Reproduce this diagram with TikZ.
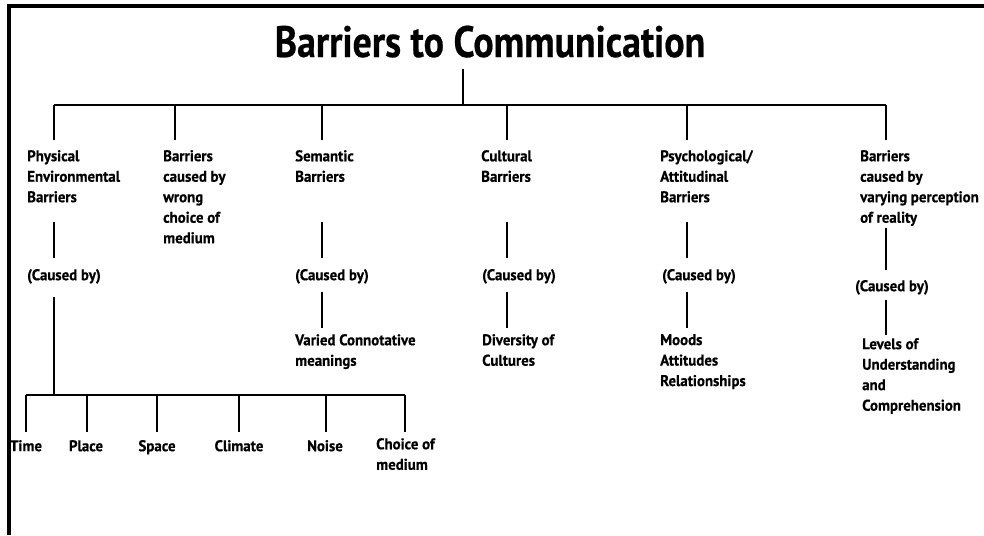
\documentclass[tikz,border=0pt]{standalone}
\usepackage{fontspec}
\setmainfont{PT Sans}[FakeStretch=0.96, FakeBold=0.5]
\newfontfamily\ttlfam{PT Sans}[FakeStretch=0.86, FakeBold=0.5]
\newcommand{\lblfont}{\fontsize{15.5}{20.5}\selectfont\bfseries}
\newcommand{\ttlfont}{\ttlfam\fontsize{44}{48}\selectfont\bfseries}
\tikzset{
  lbl/.style={anchor=north west, inner sep=0pt, align=left, font=\lblfont,
    execute at begin node=\rule{0pt}{13pt}},
  leaf/.style={lbl, anchor=north},
  conn/.style={line width=1.4pt},
}

\begin{document}
\begin{tikzpicture}[x=1pt,y=-1pt]
\useasboundingbox (0,0) rectangle (984,535);

% frame
\draw[line width=4pt] (984,6) -- (9,6) -- (9,535);

% title
\node[font=\ttlfont, anchor=base, inner sep=0pt] (title) at (490,57) {Barriers to Communication};
\coordinate (root) at (463,105);
\draw[conn] (root) -- ([yshift=-11pt]title.south -| root);

% main barriers
\node[lbl] (phys) at (27,150) {Physical\\Environmental\\Barriers};
\node[lbl] (wrong) at (163,150) {Barriers\\caused by\\wrong\\choice of\\medium};
\node[lbl] (sem) at (295,150) {Semantic\\Barriers};
\node[lbl] (cult) at (481,150) {Cultural\\Barriers};
\node[lbl] (psy) at (660,150) {Psychological/\\Attitudinal\\Barriers};
\node[lbl] (perc) at (860,150) {Barriers\\caused by\\varying perception\\of reality};

\foreach \n/\x in {phys/54, wrong/175, sem/322, cult/507, psy/687, perc/886}
  \coordinate (b-\n) at (\x,105);
\draw[conn] (b-phys) -- (b-perc);
\foreach \n in {phys, wrong, sem, cult, psy, perc}
  \draw[conn] (b-\n) -- ([yshift=10pt]\n.north -| b-\n);

% (caused by)
\node[lbl] (phys-c) at (27,267) {(Caused by)};
\node[lbl] (sem-c) at (295,267) {(Caused by)};
\node[lbl] (cult-c) at (482,267) {(Caused by)};
\node[lbl] (psy-c) at (662,267) {(Caused by)};
\node[lbl] (perc-c) at (855,278) {(Caused by)};

\foreach \n in {phys, sem, cult, psy}
  \draw[conn] ([yshift=9pt]\n-c.north -| b-\n) -- ++(0,-36);
\draw[conn] ([yshift=8pt]perc-c.north -| b-perc) -- ++(0,-42);

% causes
\node[lbl] (sem-r) at (295,334) {Varied Connotative\\meanings};
\node[lbl] (cult-r) at (482,334) {Diversity of\\Cultures};
\node[lbl] (psy-r) at (660,334) {Moods\\Attitudes\\Relationships};
\node[lbl] (perc-r) at (862,338) {Levels of\\Understanding\\and\\Comprehension};

\foreach \n in {sem, cult, psy}
  \draw[conn] ([yshift=-8pt]\n-c.south -| b-\n) -- ([yshift=6pt]\n-r.north -| b-\n);
\draw[conn] ([yshift=-5.5pt]perc-c.south -| b-perc) -- ([yshift=3pt]perc-r.north -| b-perc);

% physical barriers
\node[leaf] (time) at (26,438) {Time};
\node[leaf] (place) at (86,438) {Place};
\node[leaf] (space) at (157,438) {Space};
\node[leaf] (climate) at (239,438) {Climate};
\node[leaf] (noise) at (325,438) {Noise};
\node[lbl] (choice) at (376,438) {Choice of\\medium};

\coordinate (sub) at (54,395);
\draw[conn] ([yshift=-13pt]phys-c.south -| sub) -- (sub);
\foreach \n/\x in {time/26, place/87, space/157, climate/239, noise/326, choice/405}
  \coordinate (s-\n) at (\x,395);
\draw[conn] (s-time) -- (s-choice);
\foreach \n in {time, place, space, climate, noise, choice}
  \draw[conn] (s-\n) -- ([yshift=6pt]\n.north -| s-\n);

\end{tikzpicture}
\end{document}
